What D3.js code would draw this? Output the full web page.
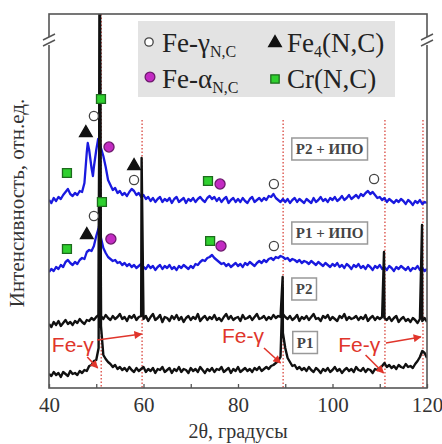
<!DOCTYPE html>
<html><head><meta charset="utf-8">
<script src="https://cdn.jsdelivr.net/npm/d3@7"></script>
<style>body{margin:0;background:#fff;} svg{display:block;}
.serif{font-family:"Liberation Serif","Times New Roman",Times,"DejaVu Serif",serif;}
.sans{font-family:"Liberation Sans",Arial,Helvetica,sans-serif;}
</style>
</head><body><svg id="c" width="442" height="444"></svg>
<script>
// ---- DATA (2θ grid 40..120 step 0.5, intensity in arbitrary units) ----
const gridStart = 40, gridStep = 0.5;
const p1 = [14,12,16,13,15,11,16,14,12,17, 14,15,13,17,15,18,17,22,23,27,
  28,40,62,33,29,26,24,21,23,19, 21,18,20,17,21,18,16,20,17,19,
  21,16,19,17,20,15,19,18,21,16, 18,20,15,19,17,21,16,19,18,15,
  20,17,19,16,21,18,15,19,17,20, 16,19,18,21,16,18,20,15,19,17,
  21,16,18,20,17,19,16,20,18,21, 17,19,21,19,22,23,25,27,31,55,
  40,30,26,22,23,19,21,18,20,17, 21,18,16,20,18,15,19,17,20,16,
  18,21,17,19,15,18,20,17,19,16, 21,18,17,20,16,19,18,15,19,18,
  20,22,25,21,23,20,22,19,23,21, 20,24,21,22,20,24,27,31,37,35, 30];
const p1Peaks = [[50.75,420],[89.45,100]];
const p2 = [64,61,66,63,67,62,65,68,64,66, 63,67,65,69,66,64,68,67,70,68,
  71,73,72,69,73,70,68,72,69,71, 74,69,71,67,72,70,73,68,71,72,
  69,72,67,71,74,68,70,73,66,71, 70,67,72,69,73,68,71,66,70,72,
  68,71,69,74,67,70,72,68,71,69, 73,68,70,67,71,74,69,72,68,70,
  71,67,73,69,70,72,68,71,74,69, 70,72,68,71,69,73,70,72,71,74,
  71,69,72,68,70,73,67,71,69,72, 68,71,74,69,70,67,72,70,73,68,
  71,69,67,72,70,74,68,71,69,70, 72,68,71,69,73,67,70,72,68,71,
  69,71,70,68,71,67,70,72,66,69, 71,67,69,66,70,68,65,69,67,70, 66];
const p2Peaks = [[50.75,420],[59.6,230],[89.45,111],[110.9,136],[118.95,163]];
const p1ipo = [116,119,117,121,119,123,121,126,128,125, 123,126,124,128,130,129,136,138,137,142,
  152,160,150,140,135,131,129,127,128,125, 126,123,125,122,124,121,123,120,122,124,
  121,119,123,120,122,118,121,123,119,122, 120,123,119,121,118,122,120,123,121,119,
  122,120,124,123,126,128,127,130,131,133, 130,128,126,124,125,122,124,121,123,125,
  122,124,121,125,123,126,124,122,125,127, 125,128,126,129,130,128,131,130,132,131,
  129,130,127,129,128,126,128,125,127,126, 124,127,125,123,126,124,122,125,123,121,
  124,122,125,121,123,120,124,122,119,123, 121,124,120,122,119,123,121,118,122,120,
  123,119,121,118,122,120,117,121,119,122, 120,118,121,117,120,119,122,118,120,117, 119];
const p1ipoPeaks = [[50.8,166]];
const p2ipo = [188,185,190,187,191,189,193,196,199,194, 192,195,193,197,196,205,236,238,220,221,
  238,246,240,232,221,208,203,198,200,195, 197,193,195,192,196,199,197,193,195,191,
  193,189,191,187,190,186,189,191,186,189, 187,190,185,189,191,186,188,190,185,189,
  187,190,186,189,191,188,186,190,192,189, 191,187,190,186,189,191,185,188,190,186,
  189,186,190,187,185,189,191,186,188,190, 187,190,188,192,191,194,190,188,186,189,
  186,189,185,188,190,186,189,187,185,189, 187,185,190,186,188,191,187,189,186,190,
  188,191,187,189,192,188,190,193,189,191, 193,190,194,192,195,197,194,196,193,190,
  191,188,190,186,189,187,185,188,186,189, 187,184,188,186,183,187,185,188,184,186, 185];
const p2ipoPeaks = [[48.2,245],[49.3,212],[50.4,249],[50.8,244]];

// phase markers [2θ, intensity]
const crMarks = [[43.8,215],[51.0,289],[73.65,207],[43.8,139],[51.2,186],[74.1,147]];
const gammaMarks = [[49.5,272],[58.0,208],[87.6,204],[108.8,209],[49.5,172],[87.6,142]];
const fe4Marks = [[47.8,255],[58.0,222],[48.0,153]];
const alphaMarks = [[52.7,241],[76.2,204],[53.1,149],[76.4,142]];

// reference (dotted) lines
const guideAngles = [51.05, 59.7, 89.55, 111.1, 119.15];
const guideTops = [374, 268, 268, 268, 268];

// curve labels
const curveLabels = ["P2 + ИПО", "P1 + ИПО", "P2", "P1"];
const labelAngles = [99.4, 99.4, 94.0, 94.2];
const labelLevels = [239, 155, 99, 45.5];

// Fe-γ annotations
const annTexts = [[40.6,36],[76.6,45],[101.2,36]];
const annArrows = [[[50.2,48],[59.6,54]], [[48.1,31],[50.3,20]], [[85.5,40],[89.0,25]],
                   [[111.3,45],[118.7,51]], [[107.0,33],[110.8,15]]];

const xTicks = [40,50,60,70,80,90,100,110,120];

// ---- DRAW ----
const svg = d3.select("#c");
const x = d3.scaleLinear().domain([40,120]).range([49,427]);
const y = d3.scaleLinear().domain([0,374]).range([388,14]);

const defs = svg.append("defs");
defs.append("clipPath").attr("id","clip").append("rect")
  .attr("x",49).attr("y",14).attr("width",378).attr("height",374);
defs.append("marker").attr("id","ah").attr("viewBox","0 0 10 10").attr("refX",9).attr("refY",5)
  .attr("markerWidth",10).attr("markerHeight",8).attr("markerUnits","userSpaceOnUse")
  .attr("orient","auto").append("path").attr("d","M0,0L10,5L0,10z").attr("fill","#e0352b");

function series(vals, peaks){
  const pts = vals.map((v,i)=>[gridStart+i*gridStep, v]).concat(peaks);
  pts.sort((a,b)=>a[0]-b[0]);
  return pts;
}
const line = d3.line().x(d=>x(d[0])).y(d=>y(d[1]));
const plot = svg.append("g").attr("clip-path","url(#clip)");

// guides
plot.selectAll("line.guide").data(guideAngles).join("line")
  .attr("x1",d=>x(d)).attr("x2",d=>x(d))
  .attr("y1",(d,i)=>y(guideTops[i])).attr("y2",y(0))
  .attr("stroke","#d9473f").attr("stroke-width",1.3).attr("stroke-dasharray","1.5,2");

// blue curves
[[p2ipo,p2ipoPeaks],[p1ipo,p1ipoPeaks]].forEach(([v,p])=>{
  plot.append("path").datum(series(v,p)).attr("d",line)
    .attr("fill","none").attr("stroke","#1a1adf").attr("stroke-width",2.3).attr("stroke-linejoin","round");
});
// black curves
[[p2,p2Peaks],[p1,p1Peaks]].forEach(([v,p])=>{
  plot.append("path").datum(series(v,p)).attr("d",line)
    .attr("fill","none").attr("stroke","#111").attr("stroke-width",2.4).attr("stroke-linejoin","round");
});

// frame
svg.append("rect").attr("x",49).attr("y",14).attr("width",378).attr("height",374)
  .attr("fill","none").attr("stroke","#555").attr("stroke-width",1.6);

// x axis
const ax = svg.append("g").attr("transform","translate(0,388)")
  .call(d3.axisBottom(x).tickValues(xTicks).tickSize(-4).tickPadding(9)
    .tickFormat(d=> d%20===0 ? d : ""));
ax.attr("font-family",null).attr("font-size",null);
ax.select(".domain").remove();
ax.selectAll(".tick line").attr("stroke","#555").attr("stroke-width",1.3);
ax.selectAll(".tick text").attr("class","serif").style("font-size","21px").attr("fill","#333");

svg.append("text").attr("class","serif").attr("x",238).attr("y",438).attr("text-anchor","middle")
  .style("font-size","20px").attr("fill","#333").text("2θ, градусы");
svg.append("text").attr("class","serif").attr("transform","translate(24,203) rotate(-90)").attr("text-anchor","middle")
  .style("font-size","21px").attr("fill","#333").text("Интенсивность, отн.ед.");

// axis breaks
[49,427].forEach(ax0=>{
  svg.append("rect").attr("x",ax0-3).attr("y",y(351)).attr("width",6).attr("height",8).attr("fill","#fff");
  [0,6].forEach(o=>{
    svg.append("line").attr("x1",ax0-6).attr("y1",y(351)+3+o).attr("x2",ax0+6).attr("y2",y(351)-3+o)
      .attr("stroke","#555").attr("stroke-width",1.5);
  });
});

// markers
const mk = svg.append("g");
function drawMarks(data, type, size, fill, stroke){
  mk.selectAll(null).data(data).join("path")
    .attr("transform",d=>`translate(${x(d[0])},${y(d[1])})`)
    .attr("d",d3.symbol().type(type).size(size))
    .attr("fill",fill).attr("stroke",stroke).attr("stroke-width",1.3);
}
drawMarks(crMarks, d3.symbolSquare, 80, "#2fd02f", "#1d6b1d");
drawMarks(gammaMarks, d3.symbolCircle, 65, "#fff", "#444");
drawMarks(fe4Marks, d3.symbolTriangle, 70, "#111", "#111");
drawMarks(alphaMarks, d3.symbolCircle, 80, "#c32bc3", "#6d1a6d");

// curve labels
curveLabels.forEach((t,i)=>{
  const g = svg.append("g");
  const tx = g.append("text").attr("class","serif").attr("x",x(labelAngles[i])).attr("y",y(labelLevels[i])+5)
    .attr("text-anchor","middle").style("font-size","15px")
    .attr("font-weight","bold").attr("fill","#444").text(t);
  const b = tx.node().getBBox();
  g.insert("rect","text").attr("x",b.x-4).attr("y",y(labelLevels[i])-11).attr("width",b.width+8).attr("height",22)
    .attr("fill","#fff").attr("stroke","#999").attr("stroke-width",1.5);
});

// Fe-γ annotations
const ann = svg.append("g");
annArrows.forEach(a=>{
  ann.append("line").attr("x1",x(a[0][0])).attr("y1",y(a[0][1])).attr("x2",x(a[1][0])).attr("y2",y(a[1][1]))
    .attr("stroke","#e0352b").attr("stroke-width",1.6).attr("marker-end","url(#ah)");
});
annTexts.forEach(a=>{
  ann.append("text").attr("class","sans").attr("x",x(a[0])).attr("y",y(a[1]))
    .style("font-size","21px").attr("fill","#e0352b").text("Fe-γ");
});

// legend
const lg = svg.append("g");
lg.append("rect").attr("x",138).attr("y",21).attr("width",257).attr("height",76).attr("fill","#e3e3e3");
const legItems = [
  {mx:149,my:42,type:d3.symbolCircle,size:55,fill:"#fff",stroke:"#444",tx:162,ty:52,main:"Fe-γ",sub:"N,C",after:""},
  {mx:275,my:43,type:d3.symbolTriangle,size:70,fill:"#111",stroke:"#111",tx:287,ty:52,main:"Fe",sub:"4",after:"(N,C)"},
  {mx:150,my:77,type:d3.symbolCircle,size:75,fill:"#c32bc3",stroke:"#6d1a6d",tx:162,ty:88,main:"Fe-α",sub:"N,C",after:""},
  {mx:275,my:79,type:d3.symbolSquare,size:70,fill:"#2fd02f",stroke:"#1d6b1d",tx:287,ty:88,main:"Cr(N,C)",sub:"",after:""}
];
legItems.forEach(it=>{
  lg.append("path").attr("transform",`translate(${it.mx},${it.my})`)
    .attr("d",d3.symbol().type(it.type).size(it.size)).attr("fill",it.fill).attr("stroke",it.stroke).attr("stroke-width",1.3);
  const t = lg.append("text").attr("class","serif").attr("x",it.tx).attr("y",it.ty)
    .style("font-size","27px").attr("fill","#222");
  t.append("tspan").text(it.main);
  if(it.sub){ t.append("tspan").attr("dy",5).style("font-size","16px").text(it.sub); }
  if(it.after){ t.append("tspan").attr("dy",-5).text(it.after); }
});
</script></body></html>
